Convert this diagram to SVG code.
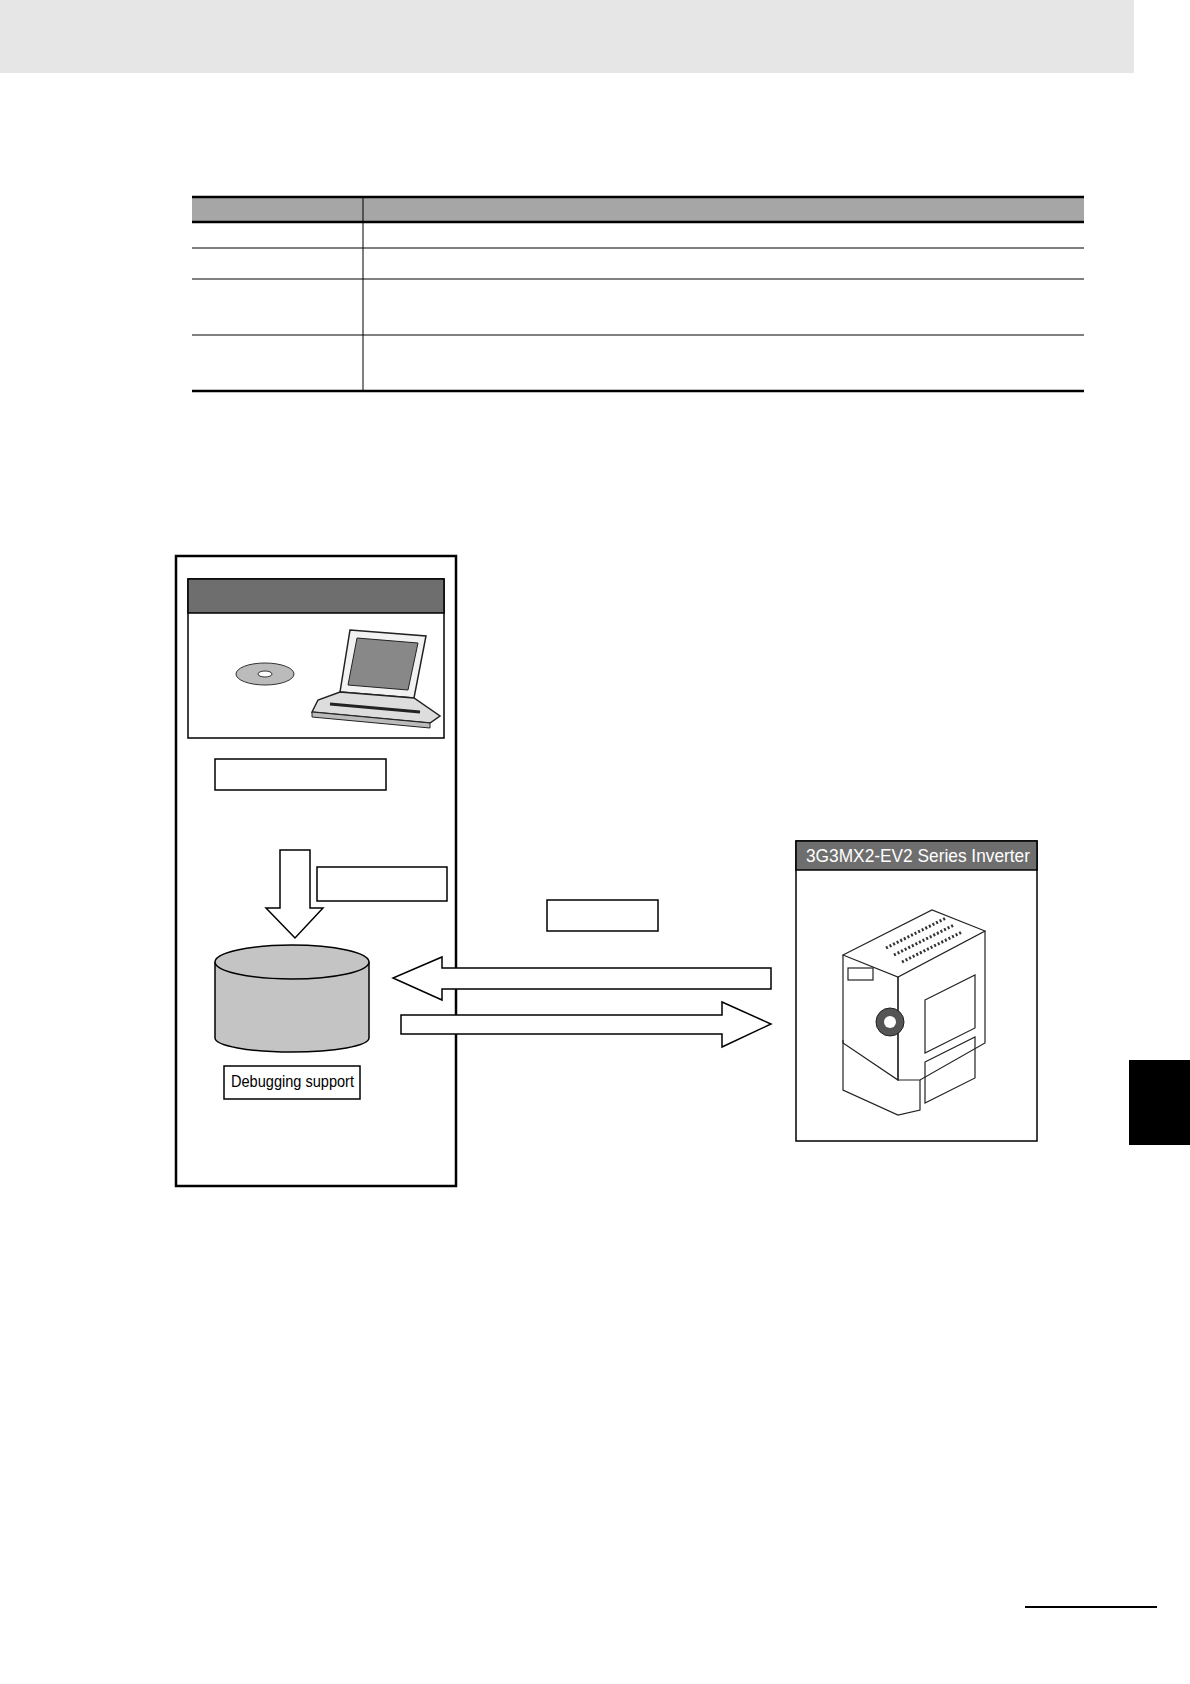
<svg xmlns="http://www.w3.org/2000/svg" width="1190" height="1684" viewBox="0 0 1190 1684">
<style>
.k{fill:none;stroke:#000;stroke-width:1.5}
.w{fill:#fff;stroke:#000;stroke-width:1.5}
.d{fill:none;stroke:#222;stroke-width:1.2}
.t{font-family:"Liberation Sans",Arial,sans-serif;fill:#fff;font-size:19px}
</style>
<rect width="1190" height="1684" fill="#fff"/>
<rect x="0" y="0" width="1134" height="73" fill="#e6e6e6"/>
<g id="table">
<rect x="192" y="197" width="892" height="25" fill="#a6a6a6"/>
<line x1="192" y1="197" x2="1084" y2="197" stroke="#000" stroke-width="2.5"/>
<line x1="192" y1="222" x2="1084" y2="222" stroke="#000" stroke-width="2.5"/>
<line x1="192" y1="248" x2="1084" y2="248" stroke="#000" stroke-width="1"/>
<line x1="192" y1="279" x2="1084" y2="279" stroke="#000" stroke-width="1"/>
<line x1="192" y1="335" x2="1084" y2="335" stroke="#000" stroke-width="1"/>
<line x1="192" y1="391" x2="1084" y2="391" stroke="#000" stroke-width="2.5"/>
<line x1="363" y1="197" x2="363" y2="391" stroke="#000" stroke-width="1"/>
</g>
<g id="pc-box"><rect x="176" y="556" width="280" height="630" fill="none" stroke="#000" stroke-width="2.5"/></g>
<g id="software-panel">
<rect x="188" y="579" width="256" height="159" class="w"/>
<rect x="188" y="579" width="256" height="34" fill="#6e6e6e" stroke="#000" stroke-width="1.5"/>
<ellipse cx="265" cy="674" rx="29" ry="11" fill="#bbb" stroke="#333"/>
<ellipse cx="265" cy="674" rx="7" ry="3" fill="#fff" stroke="#333"/>
<path d="M350 630 L426 636 L414 698 L340 692 Z" fill="#f2f2f2" stroke="#222" stroke-width="1.5"/>
<path d="M357 638 L418 643 L408 690 L348 685 Z" fill="#888" stroke="#222"/>
<path d="M340 692 L414 698 L440 716 L430 723 L312 712 L318 700 Z" fill="#ddd" stroke="#222" stroke-width="1.5"/>
<path d="M312 712 L430 723 L430 728 L312 717 Z" fill="#bbb" stroke="#222"/>
<line x1="330" y1="704" x2="420" y2="712" stroke="#222" stroke-width="3"/>
</g>
<g id="label1"><rect x="215" y="759" width="171" height="31" class="w"/></g>
<g id="label2"><rect x="317" y="867" width="130" height="34" class="w"/></g>
<g id="label3"><rect x="547" y="900" width="111" height="31" class="w"/></g>
<g id="connectors">
<path d="M280 850 H310 V908 H323 L295 938 L266 908 H280 Z" class="w"/>
<path d="M771 968 V989 H442 V1000 L393 978 L442 957 V968 Z" class="w"/>
<path d="M401 1015 H722 V1002 L771 1024 L722 1047 V1034 H401 Z" class="w"/>
</g>
<g id="database">
<path d="M215 962 V1038 A77 14 0 0 0 369 1038 V962" fill="#c4c4c4" stroke="#000" stroke-width="1.5"/>
<ellipse cx="292" cy="962" rx="77" ry="17" fill="#c4c4c4" stroke="#000" stroke-width="1.5"/>
<rect x="224" y="1066" width="136" height="33" class="w"/>
<text x="231" y="1087" textLength="123" lengthAdjust="spacingAndGlyphs" font-family="'Liberation Sans',Arial,sans-serif" font-size="17" fill="#000">Debugging support</text>
</g>
<g id="inverter">
<rect x="796" y="841" width="241" height="300" class="w"/>
<rect x="796" y="841" width="241" height="29" fill="#6e6e6e" stroke="#000" stroke-width="1.5"/>
<text x="806" y="862" textLength="224" lengthAdjust="spacingAndGlyphs" class="t">3G3MX2-EV2  Series  Inverter</text>
<path d="M843 955 L932 910 L985 931 L898 977 Z" class="d" fill="#fff"/>
<path d="M843 955 V1043 L898 1080 V977" class="d"/>
<path d="M898 977 V1080 L920 1080 L985 1043 V931" class="d"/>
<path d="M843 1040 V1090 L898 1115 L920 1110 V1080" class="d"/>
<rect x="848" y="968" width="25" height="12" class="d"/>
<circle cx="890" cy="1022" r="14" fill="#555" stroke="#222"/>
<circle cx="890" cy="1022" r="6" fill="#fff"/>
<path d="M925 1000 L975 975 V1028 L925 1053 Z" class="d"/>
<path d="M925 1062 L975 1037 V1078 L925 1103 Z" class="d"/>
<g stroke="#333" stroke-width="3" stroke-dasharray="2 2">
<line x1="886" y1="948" x2="946" y2="918"/>
<line x1="894" y1="955" x2="954" y2="925"/>
<line x1="902" y1="962" x2="962" y2="932"/>
</g>
</g>
<rect x="1129" y="1060" width="61" height="85" fill="#000"/>
<line x1="1025" y1="1607" x2="1157" y2="1607" stroke="#000" stroke-width="2"/>
</svg>
